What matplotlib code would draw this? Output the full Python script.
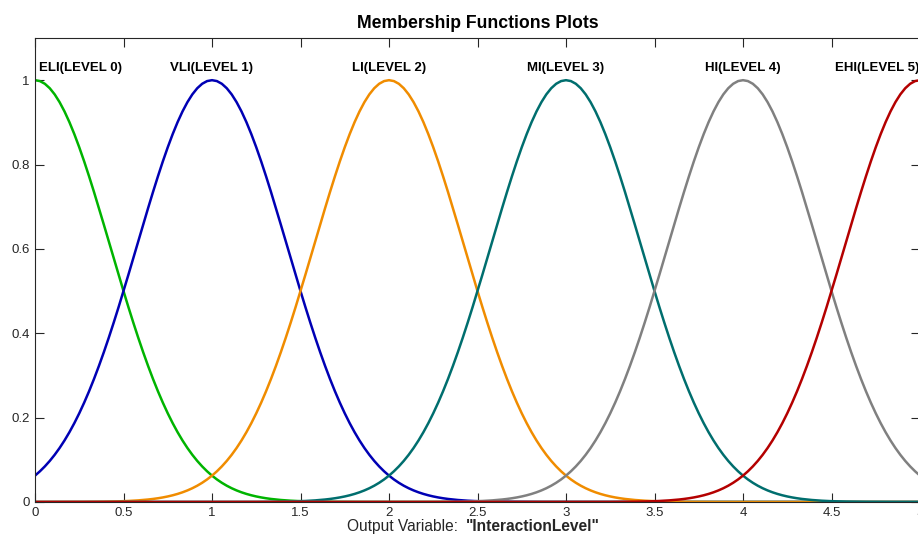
import numpy as np
import matplotlib
matplotlib.use("Agg")
import matplotlib.pyplot as plt

# Gaussian membership function parameters (gaussmf: sigma, center)
mf_names = ["ELI(LEVEL 0)", "VLI(LEVEL 1)", "LI(LEVEL 2)", "MI(LEVEL 3)", "HI(LEVEL 4)", "EHI(LEVEL 5)"]
mf_centers = [0, 1, 2, 3, 4, 5]
mf_sigmas = [0.4247, 0.4247, 0.4247, 0.4247, 0.4247, 0.4247]
mf_colors = ["#00b400", "#0000b4", "#f08c00", "#006e6e", "#808080", "#b40000"]
x_ticks = [0, 0.5, 1, 1.5, 2, 2.5, 3, 3.5, 4, 4.5, 5]
y_ticks = [0, 0.2, 0.4, 0.6, 0.8, 1]
x_range = [0, 5]

plt.rcParams['font.family'] = ['Liberation Sans', 'DejaVu Sans']

W, H = 918, 535
fig = plt.figure(figsize=(W / 100, H / 100), dpi=100)
left, right, top, bottom = 35, 920, 38, 502
ax = fig.add_axes([left / W, (H - bottom) / H, (right - left) / W, (bottom - top) / H])

x = np.linspace(x_range[0], x_range[1], 181)
for c, s, col in zip(mf_centers, mf_sigmas, mf_colors):
    y = np.exp(-((x - c) ** 2) / (2 * s ** 2))
    ax.plot(x, y, color=col, lw=1.8, solid_joinstyle='round')

for i, (name, c) in enumerate(zip(mf_names, mf_centers)):
    if i == 0:
        ax.text(c + 0.02, 1.03, name, ha='left', va='center', fontsize=9.5, fontweight='bold')
    elif i == len(mf_names) - 1:
        ax.text(c - 0.005, 1.03, name, ha='right', va='center', fontsize=9.5, fontweight='bold')
    else:
        ax.text(c, 1.03, name, ha='center', va='center', fontsize=9.5, fontweight='bold')

ax.set_xlim(x_range)
ax.set_ylim(0, 1.1)
ax.set_xticks(x_ticks)
ax.set_xticklabels([f"{v:g}" for v in x_ticks])
ax.set_yticks(y_ticks)
ax.set_yticklabels([f"{v:g}" for v in y_ticks])
ax.tick_params(direction='in', length=6.5, width=0.8, colors='#262626', labelsize=9.5,
               top=True, right=True, pad=4)
ax.tick_params(axis='x', pad=3.5)
for sp in ax.spines.values():
    sp.set_color('#262626')
    sp.set_linewidth(0.8)

ax.set_title("Membership Functions Plots", fontsize=12.7, fontweight='bold', pad=7)

xl = 466 / W
yl = (H - 531) / H
fig.text(xl, yl, "Output Variable:  ", ha='right', va='baseline',
         fontsize=11.2, color='#262626')
fig.text(xl, yl, "\"InteractionLevel\"", ha='left', va='baseline',
         fontsize=11.2, fontweight='bold', color='#262626')

fig.savefig("out.png", dpi=100)
